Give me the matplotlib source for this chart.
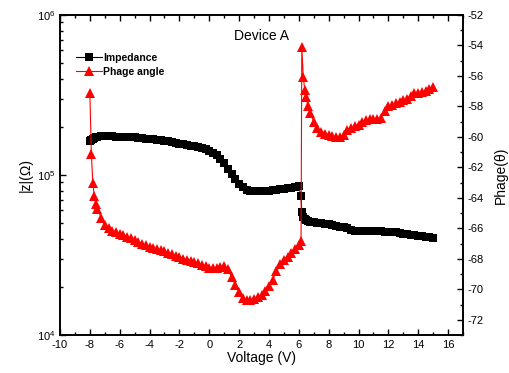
import numpy as np
import matplotlib
matplotlib.use("Agg")
import matplotlib.pyplot as plt
from matplotlib.ticker import MultipleLocator

plt.rcParams['font.family'] = ['Liberation Sans', 'DejaVu Sans']
plt.rcParams['mathtext.fontset'] = 'custom'
plt.rcParams['mathtext.rm'] = 'Liberation Sans'
plt.rcParams['axes.unicode_minus'] = False

# Voltage sweep (V)
voltage_start = [-8.0, -7.9, -7.8, -7.7, -7.6]
voltage_a = list(np.arange(-7.5, 6.001, 0.25))
voltage_jump = [6.15, 6.2, 6.3, 6.4, 6.5, 6.6, 6.75]
voltage_c = list(np.arange(7.0, 15.001, 0.25))
voltage = np.array(voltage_start + voltage_a + voltage_jump + voltage_c)

# Impedance |z| (x1e5 Ohm)
imp_start = [1.62, 1.66, 1.69, 1.71, 1.73]
imp_a = [1.74, 1.75, 1.75, 1.75, 1.75, 1.74, 1.74, 1.74, 1.73, 1.72,
         1.72, 1.71, 1.70, 1.69, 1.68, 1.67, 1.66, 1.65, 1.63, 1.62,
         1.60, 1.59, 1.57, 1.56, 1.54, 1.52, 1.51, 1.49, 1.47, 1.45,
         1.42, 1.38, 1.33, 1.26, 1.18, 1.09, 1.01, 0.94, 0.88, 0.84,
         0.81, 0.80, 0.795, 0.79, 0.795, 0.80, 0.80, 0.805, 0.81, 0.815,
         0.82, 0.825, 0.83, 0.84, 0.85]
imp_jump = [0.74, 0.59, 0.55, 0.53, 0.52, 0.515, 0.51]
imp_c = [0.505, 0.50, 0.498, 0.495, 0.492, 0.488, 0.48, 0.475, 0.472, 0.468,
         0.455, 0.447, 0.446, 0.446, 0.445, 0.445, 0.445, 0.444, 0.444, 0.443,
         0.443, 0.442, 0.44, 0.435, 0.43, 0.427, 0.424, 0.42, 0.417, 0.414,
         0.41, 0.407, 0.404]
impedance = np.array(imp_start + imp_a + imp_jump + imp_c) * 1e5

# Phase angle (degrees)
ph_start = [-57.1, -61.1, -63.0, -63.9, -64.4]
ph_a = [-64.7, -65.3, -65.8, -66.0, -66.15, -66.25, -66.35, -66.45, -66.55, -66.65,
        -66.75, -66.9, -67.0, -67.1, -67.2, -67.28, -67.35, -67.43, -67.5, -67.6,
        -67.7, -67.8, -67.9, -67.98, -68.05, -68.12, -68.2, -68.3, -68.4, -68.5,
        -68.6, -68.62, -68.6, -68.55, -68.5, -68.7, -69.2, -69.7, -70.2, -70.55,
        -70.7, -70.72, -70.65, -70.5, -70.35, -70.1, -69.8, -69.4, -68.8, -68.35,
        -68.1, -67.85, -67.6, -67.35, -67.1]
ph_jump = [-66.8, -54.1, -56.1, -56.9, -57.4, -58.0, -58.4]
ph_c = [-59.0, -59.4, -59.7, -59.8, -59.9, -59.95, -60.0, -60.0, -59.85, -59.55,
        -59.4, -59.3, -59.2, -59.05, -58.9, -58.8, -58.8, -58.8, -58.75, -58.3,
        -58.0, -57.9, -57.8, -57.7, -57.6, -57.5, -57.3, -57.15, -57.1, -57.05,
        -57.0, -56.85, -56.7]
phase = np.array(ph_start + ph_a + ph_jump + ph_c)

fig = plt.figure(figsize=(5.10, 3.73), dpi=100)
ax1 = fig.add_axes([60/510, 1-335/373, (463-60)/510, (335-15)/373])
ax2 = ax1.twinx()

l1, = ax1.plot(voltage, impedance, color='black', lw=0.8, marker='s',
               markersize=5.5, markeredgewidth=0, label='Impedance')
l2, = ax2.plot(voltage, phase, color='red', lw=0.8, marker='^',
               markersize=7, markeredgewidth=0, label='Phage angle')

ax1.set_yscale('log')
ax1.set_ylim(1e4, 1e6)
ax1.set_xlim(-10, 17)
ax2.set_ylim(-73, -52)

ax1.xaxis.set_major_locator(MultipleLocator(2))
ax1.xaxis.set_minor_locator(MultipleLocator(1))
ax2.yaxis.set_major_locator(MultipleLocator(2))
ax2.yaxis.set_minor_locator(MultipleLocator(1))

for ax in (ax1, ax2):
    for s in ax.spines.values():
        s.set_linewidth(1.2)
ax1.tick_params(which='both', direction='in', top=True, right=False,
                labelsize=8, width=1.0)
ax1.tick_params(which='major', length=4.5)
ax1.tick_params(which='minor', length=2.5)
ax2.tick_params(which='both', direction='in', labelsize=8, width=1.0)
ax2.tick_params(which='major', length=4.5)
ax2.tick_params(which='minor', length=2.5)

ax1.set_xlabel('Voltage (V)', fontsize=10, labelpad=1)
ax1.set_ylabel('|z|(Ω)', fontsize=10, labelpad=3)
ax2.set_ylabel('Phage(θ)', fontsize=10, labelpad=7)

ax1.text(0.5, 0.955, 'Device A', transform=ax1.transAxes, ha='center',
         va='top', fontsize=10)

leg = ax1.legend([l1, l2], ['Impedance', 'Phage angle'], loc='upper left',
                 bbox_to_anchor=(0.03, 0.895), frameon=False,
                 prop={'weight': 'bold', 'size': 7.5}, handlelength=2.5,
                 handletextpad=0.1, labelspacing=0.4, borderaxespad=0)

fig.savefig('out.png', dpi=100)
